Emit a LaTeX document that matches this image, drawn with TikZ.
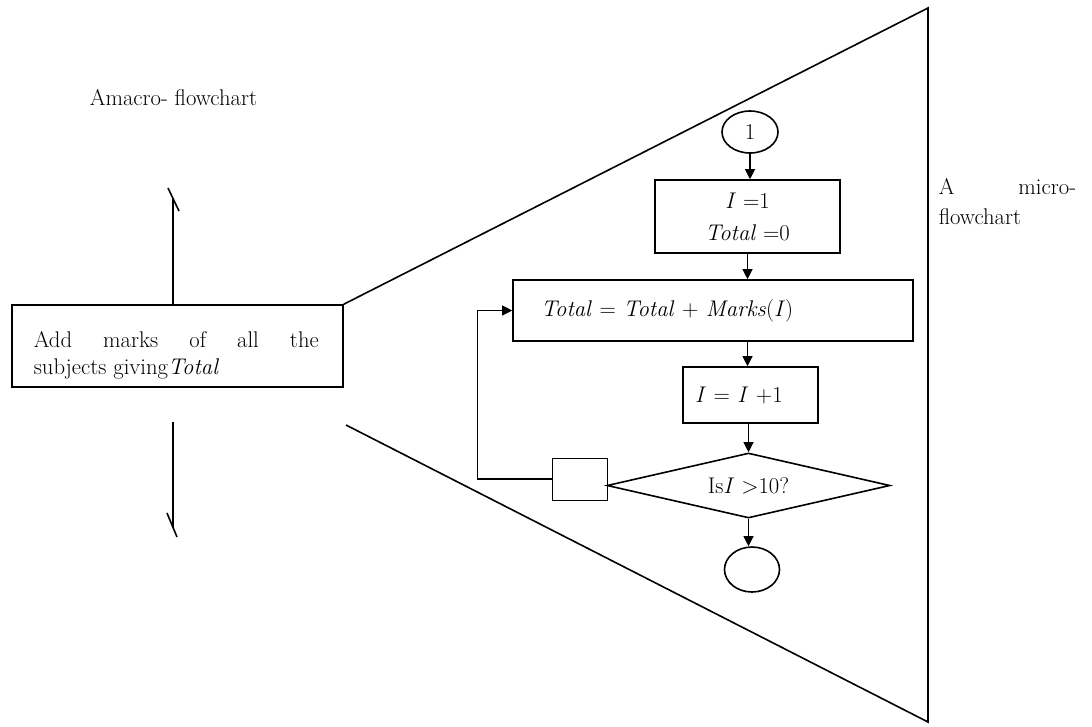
\documentclass[tikz,border=0pt]{standalone}
\usetikzlibrary{shapes.geometric,arrows.meta}
\begin{document}
\begin{tikzpicture}[
  x=0.75pt, y=-0.75pt,
  font=\fontsize{17}{20}\selectfont,
  line width=1.2pt,
  proc/.style={draw, rectangle, inner sep=0pt},
  term/.style={draw, ellipse, inner sep=0pt, minimum width=42pt, minimum height=31.5pt},
  decision/.style={draw, diamond, aspect=4.35, inner sep=0pt, minimum width=212.25pt, minimum height=48.75pt},
  flow/.style={-{Triangle[length=7.5pt,width=7.5pt]}, line width=0.8pt},
  label/.style={inner sep=0pt}
]
\useasboundingbox (0,0) rectangle (1092,726);

% macro side
\node (macrolbl) [label, anchor=base west] at (89,105) {Amacro- flowchart};
\node (macro) [proc, minimum width=248.25pt, minimum height=61.5pt] at (177.5,346) {};
\node (macrotxt) [label, text width=213.75pt, align=justify, anchor=north west] at (33,331)
  {Add marks of all the\linebreak subjects giving\textit{Total}};

\coordinate (uptop) at (173,198);
\coordinate (dntop) at (173,422);
\coordinate (dnbot) at (173,528);
\draw (uptop |- macro.north) -- (uptop);
\draw (168,188) -- (179,211);
\draw (dntop) -- (dnbot);
\draw (167,513) -- (177,537);

% zoom triangle
\coordinate (apexT) at (928,8);
\coordinate (apexB) at (928,722);
\coordinate (lowstart) at (346,425);
\draw (macro.north east) -- (apexT) -- (apexB) -- (lowstart);

\node (microlbl) [label, text width=103pt, align=justify, anchor=north west,
  font=\fontsize{17}{22.5}\selectfont] at (938,178)
  {A micro-\linebreak flowchart};

% micro flowchart
\node (start) [term] at (750,132) {1};
\node (init) [proc, minimum width=138.75pt, minimum height=54.75pt, align=center] at (747.5,216.5)
  {\textit{I} =1\\[4pt]\textit{Total} =0};
\node (sum) [proc, minimum width=300pt, minimum height=45.75pt, inner xsep=21pt, text width=258pt, align=left] at (713,310.5)
  {\textit{Total} = \textit{Total} + \textit{Marks}(\textit{I})};
\node (incr) [proc, minimum width=101.25pt, minimum height=42pt, inner xsep=9pt, text width=83.25pt, align=left] at (750.5,395)
  {\textit{I} = \textit{I} +1};
\node (test) [decision] at (748.5,485.5) {Is\textit{I} >10?};
\node (conn) [proc, line width=0.7pt, minimum width=41.25pt, minimum height=31.5pt] at (579.5,479) {};
\node (stop) [term, minimum width=41.25pt, minimum height=33.75pt] at (752,569.5) {};

\draw[flow] (start.south) -- (start.south |- init.north);
\draw[flow] (init.south) -- (init.south |- sum.north);
\draw[flow] (init.south |- sum.south) -- (init.south |- incr.north);
\draw[flow] (test.north |- incr.south) -- (test.north);
\draw[flow] (test.south) -- (test.south |- stop.north);
\draw[flow] (conn.west) -- ++(-74,0) |- (sum.west);
\end{tikzpicture}
\end{document}
